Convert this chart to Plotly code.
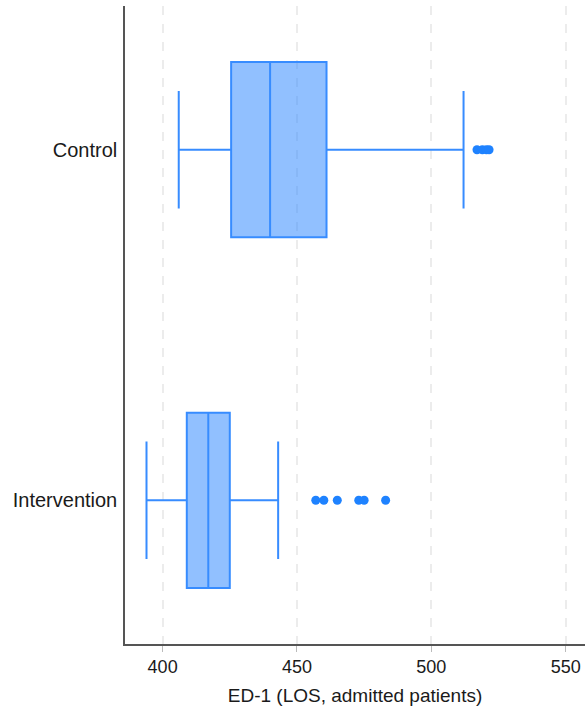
import plotly.graph_objects as go

# Summary statistics for ED-1 length of stay, admitted patients
groups = ["Control", "Intervention"]
lower_whisker = [406, 394]
q1 = [425.5, 409]
median = [440, 417]
q3 = [461, 425]
upper_whisker = [512, 443]
outliers = {
    "Control": [517, 519, 520.5, 521.5],
    "Intervention": [457, 460, 465, 473, 475, 483],
}
x_ticks = [400, 450, 500, 550]

line_color = "rgb(55,140,255)"
fill_color = "rgba(55,140,255,0.55)"
point_color = "rgb(30,130,255)"
font_family = "Liberation Sans, Arial, sans-serif"

fig = go.Figure()

for i, g in enumerate(groups):
    fig.add_trace(go.Box(
        y=[g],
        q1=[q1[i]],
        median=[median[i]],
        q3=[q3[i]],
        lowerfence=[lower_whisker[i]],
        upperfence=[upper_whisker[i]],
        orientation="h",
        width=0.5,
        whiskerwidth=0.67,
        boxpoints=False,
        line=dict(color=line_color, width=2),
        fillcolor=fill_color,
        showlegend=False,
        hoverinfo="skip",
    ))
    fig.add_trace(go.Scatter(
        x=outliers[g],
        y=[g] * len(outliers[g]),
        mode="markers",
        marker=dict(color=point_color, size=9),
        showlegend=False,
        hoverinfo="skip",
    ))

fig.update_layout(
    width=585,
    height=708,
    margin=dict(l=125, r=0, t=6, b=64),
    paper_bgcolor="white",
    plot_bgcolor="white",
    font=dict(family=font_family, size=20, color="#1a1a1a"),
    xaxis=dict(
        range=[386, 557.2],
        tickvals=x_ticks,
        ticks="outside",
        ticklen=6,
        tickwidth=1,
        tickcolor="#bbbbbb",
        showline=True,
        linecolor="#555555",
        linewidth=1.5,
        showgrid=True,
        gridcolor="#ececec",
        gridwidth=1.5,
        griddash="dash",
        zeroline=False,
        title=dict(text="ED-1 (LOS, admitted patients)", font=dict(size=19), standoff=12),
        tickfont=dict(size=18),
    ),
    yaxis=dict(
        type="category",
        categoryorder="array",
        categoryarray=["Intervention", "Control"],
        range=[-0.41, 1.41],
        showline=True,
        linecolor="#555555",
        linewidth=1.5,
        showgrid=False,
        zeroline=False,
        ticks="",
        ticklabelstandoff=2,
        tickfont=dict(size=20),
    ),
)

fig.write_html("out.html")
